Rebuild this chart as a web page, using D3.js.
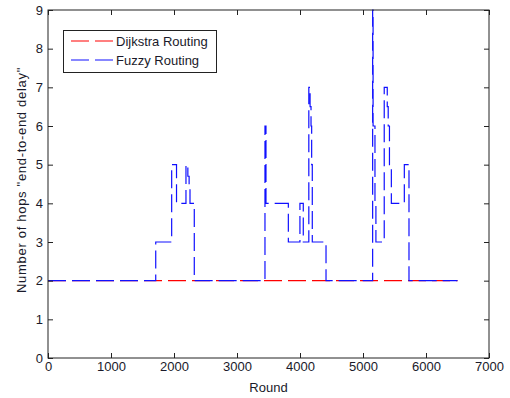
<!DOCTYPE html>
<html>
<head>
<meta charset="utf-8">
<script src="https://cdn.jsdelivr.net/npm/d3@7/dist/d3.min.js"></script>
<style>
  html, body { margin: 0; padding: 0; background: #fff; }
  svg { display: block; }
  text { font-family: "Liberation Sans", Arial, sans-serif; fill: #1a1a2a; }
</style>
</head>
<body>
<svg id="chart" width="510" height="398"></svg>
<script>
// ---- data ----
const xTicks = [0, 1000, 2000, 3000, 4000, 5000, 6000, 7000];
const yTicks = [0, 1, 2, 3, 4, 5, 6, 7, 8, 9];
const seriesNames = ["Dijkstra Routing", "Fuzzy Routing"];

const dijkstraRounds = [0, 6500];
const dijkstraHops   = [2, 2];

const fuzzyRounds = [0, 1710, 1963, 2040, 2190, 2220, 2240, 2254, 2322,
                     3444, 3460, 3815, 3999, 4052, 4140, 4160, 4175, 4185, 4195, 4413,
                     5153, 5160, 5190, 5205, 5337, 5385, 5400, 5420, 5450, 5656, 5730, 6500];
const fuzzyHops   = [2, 3, 5, 4, 5, 4.7, 4.4, 4, 2,
                     6, 4, 3, 4, 3, 7, 6.5, 6, 5, 3, 2,
                     9, 6, 4, 3, 7, 6.5, 6, 5, 4, 5, 2, 2];

// ---- layout ----
const L = 48, R = 489, T = 10, B = 358;
const svg = d3.select("#chart");

const x = d3.scaleLinear().domain([0, 7000]).range([L, R]);
const y = d3.scaleLinear().domain([0, 9]).range([B, T]);

const dash = "18,6";

// lines
const line = d3.line().x(d => x(d[0])).y(d => y(d[1])).curve(d3.curveStepAfter);
const dData = dijkstraRounds.map((r, i) => [r, dijkstraHops[i]]);
const fData = fuzzyRounds.map((r, i) => [r, fuzzyHops[i]]);

svg.append("path").datum(dData).attr("d", line)
  .attr("fill", "none").attr("stroke", "#ff0000").attr("stroke-width", 1.2)
  .attr("stroke-dasharray", dash);
svg.append("path").datum(fData).attr("d", line)
  .attr("fill", "none").attr("stroke", "#1010ff").attr("stroke-width", 1.2)
  .attr("stroke-dasharray", dash);

// axes
const fontSize = "13px";
const fmt = d3.format("d");
const gx = svg.append("g").attr("transform", `translate(0,${B})`)
  .call(d3.axisBottom(x).tickValues(xTicks).tickFormat(fmt).tickSizeInner(-5).tickSizeOuter(0).tickPadding(4));
const gxt = svg.append("g").attr("transform", `translate(0,${T})`)
  .call(d3.axisTop(x).tickValues(xTicks).tickSizeInner(-5).tickSizeOuter(0).tickFormat(""));
const gy = svg.append("g").attr("transform", `translate(${L},0)`)
  .call(d3.axisLeft(y).tickValues(yTicks).tickFormat(fmt).tickSizeInner(-5).tickSizeOuter(0).tickPadding(5));
const gyr = svg.append("g").attr("transform", `translate(${R},0)`)
  .call(d3.axisRight(y).tickValues(yTicks).tickSizeInner(-5).tickSizeOuter(0).tickFormat(""));

[gx, gxt, gy, gyr].forEach(g => {
  g.select(".domain").remove();
  g.selectAll("line").attr("stroke", "#222");
  g.selectAll("text").style("font-size", fontSize).attr("fill", "#1a1a2a")
    .style("font-family", '"Liberation Sans", Arial, sans-serif');
});

// frame
svg.append("rect").attr("x", L).attr("y", T).attr("width", R - L).attr("height", B - T)
  .attr("fill", "none").attr("stroke", "#222").attr("stroke-width", 1);

// axis labels
svg.append("text").attr("x", (L + R) / 2).attr("y", 392).attr("text-anchor", "middle")
  .style("font-size", fontSize).text("Round");
svg.append("text").attr("transform", `translate(26,${(T + B) / 2 - 4}) rotate(-90)`)
  .attr("text-anchor", "middle").style("font-size", fontSize).style("letter-spacing", "0.7px")
  .text('Number of hops "end-to-end delay"');

// legend
const leg = svg.append("g");
leg.append("rect").attr("x", 63.5).attr("y", 30.5).attr("width", 153).attr("height", 42)
  .attr("fill", "#fff").attr("stroke", "#222");
const legColors = ["#ff0000", "#1010ff"];
const legY = [41, 60];
seriesNames.forEach((name, i) => {
  leg.append("line").attr("x1", 71).attr("x2", 113).attr("y1", legY[i]).attr("y2", legY[i])
    .attr("stroke", legColors[i]).attr("stroke-width", 1.2).attr("stroke-dasharray", dash);
  leg.append("text").attr("x", 116).attr("y", legY[i] + 5).style("font-size", fontSize).text(name);
});
</script>
</body>
</html>
